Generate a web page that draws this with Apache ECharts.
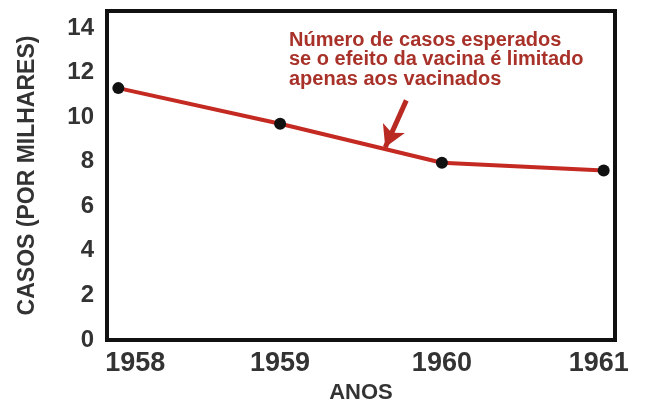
<!DOCTYPE html>
<html>
<head>
<meta charset="utf-8">
<script src="https://cdn.jsdelivr.net/npm/echarts@6/dist/echarts.min.js"></script>
<style>
  html, body { margin: 0; padding: 0; background: #fff; }
  #chart { width: 646px; height: 405px; }
</style>
</head>
<body>
<div id="chart"></div>
<script>
// dados
var anos = [1958, 1959, 1960, 1961];
var casos = [11.3, 9.7, 7.95, 7.6];
var yTicks = [0, 2, 4, 6, 8, 10, 12, 14];
var nota = ['Número de casos esperados', 'se o efeito da vacina é limitado', 'apenas aos vacinados'];
// seta da nota, em coordenadas de dados [ano, casos]
var setaInicio = [1959.78, 10.75];
var setaFim = [1959.65, 8.65];

var myChart = echarts.init(document.getElementById('chart'));

var vermelho = '#c42a22';
var cinza = '#333';

var option = {
    animation: false,
    grid: {
        left: 107, right: 31, top: 11, bottom: 65,
        outerBoundsMode: 'none',
        show: true,
        borderColor: '#111',
        borderWidth: 4
    },
    xAxis: {
        type: 'value',
        min: 1957.93,
        max: 1961.07,
        name: 'ANOS',
        nameLocation: 'middle',
        nameGap: 42,
        nameTextStyle: { fontFamily: 'Liberation Sans', fontWeight: 'bold', fontSize: 22, color: cinza },
        axisLine: { show: true, lineStyle: { color: '#111', width: 4 } },
        axisTick: { show: false },
        splitLine: { show: false },
        axisLabel: {
            customValues: anos,
            margin: 10,
            fontFamily: 'Liberation Sans',
            fontWeight: 'bold',
            fontSize: 27,
            color: cinza,
            formatter: function (v) {
                if (v === anos[0]) return '{a|' + v + '}';
                if (v === anos[anos.length - 1]) return '{b|' + v + '}';
                return String(v);
            },
            rich: {
                a: { padding: [0, 0, 0, 34], fontFamily: 'Liberation Sans', fontWeight: 'bold', fontSize: 27, color: cinza },
                b: { padding: [0, 10, 0, 0], fontFamily: 'Liberation Sans', fontWeight: 'bold', fontSize: 27, color: cinza }
            }
        }
    },
    yAxis: {
        type: 'value',
        min: 0,
        max: 14.76,
        name: 'CASOS (POR MILHARES)',
        nameLocation: 'middle',
        nameGap: 68,
        nameRotate: 90,
        nameTextStyle: { fontFamily: 'Liberation Sans', fontWeight: 'bold', fontSize: 23, color: cinza },
        axisLine: { show: true, lineStyle: { color: '#111', width: 4 } },
        axisTick: { show: false },
        splitLine: { show: false },
        axisLabel: {
            customValues: yTicks,
            margin: 13,
            fontFamily: 'Liberation Sans',
            fontWeight: 'bold',
            fontSize: 24,
            color: cinza
        }
    },
    graphic: [{
        type: 'text',
        left: 289,
        top: 30,
        style: {
            text: nota.join('\n'),
            fontFamily: 'Liberation Sans',
            fontWeight: 'bold',
            fontSize: 20,
            lineHeight: 19.5,
            fill: '#a8322a'
        }
    }],
    series: [{
        type: 'line',
        data: anos.map(function (a, i) { return [a, casos[i]]; }),
        symbol: 'circle',
        symbolSize: 12,
        itemStyle: { color: '#111' },
        lineStyle: { color: vermelho, width: 4 },
        markLine: {
            silent: true,
            symbol: ['none', 'arrow'],
            symbolSize: [18, 21],
            label: { show: false },
            lineStyle: { color: '#b82a22', width: 5, type: 'solid' },
            data: [[{ coord: setaInicio }, { coord: setaFim }]]
        }
    }]
};

myChart.setOption(option);
</script>
</body>
</html>
